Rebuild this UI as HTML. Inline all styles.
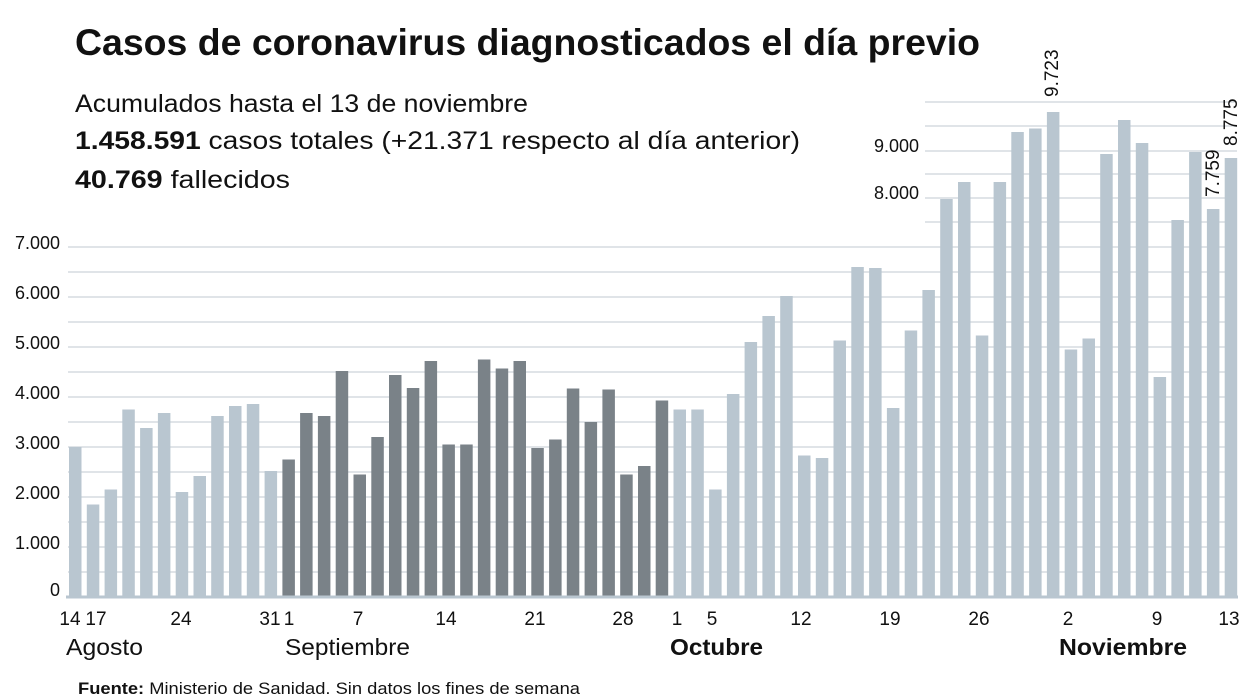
<!DOCTYPE html>
<html><head><meta charset="utf-8"><style>
body{margin:0;background:#fff;}
svg{display:block;font-family:"Liberation Sans",sans-serif;}
</style></head><body>
<svg width="1248" height="698" viewBox="0 0 1248 698">
<text x="75" y="55" font-size="37" font-weight="bold" fill="#111" textLength="905" lengthAdjust="spacingAndGlyphs">Casos de coronavirus diagnosticados el día previo</text>
<text x="75" y="112" font-size="25" fill="#111" textLength="453" lengthAdjust="spacingAndGlyphs">Acumulados hasta el 13 de noviembre</text>
<text x="75" y="149" font-size="25" fill="#111" textLength="725" lengthAdjust="spacingAndGlyphs"><tspan font-weight="bold">1.458.591</tspan> casos totales (+21.371 respecto al día anterior)</text>
<text x="75" y="188" font-size="25" fill="#111" textLength="215" lengthAdjust="spacingAndGlyphs"><tspan font-weight="bold">40.769</tspan> fallecidos</text>
<g stroke="#d5dbe0" stroke-width="1.5">
<line x1="925" x2="1237" y1="102" y2="102"/><line x1="925" x2="1237" y1="126" y2="126"/><line x1="925" x2="1237" y1="151" y2="151"/><line x1="925" x2="1237" y1="174" y2="174"/><line x1="925" x2="1237" y1="198" y2="198"/><line x1="925" x2="1237" y1="222" y2="222"/>
<line x1="68" x2="1237" y1="247" y2="247"/><line x1="68" x2="1237" y1="272" y2="272"/><line x1="68" x2="1237" y1="297" y2="297"/><line x1="68" x2="1237" y1="322" y2="322"/><line x1="68" x2="1237" y1="347" y2="347"/><line x1="68" x2="1237" y1="372" y2="372"/><line x1="68" x2="1237" y1="397" y2="397"/><line x1="68" x2="1237" y1="422" y2="422"/><line x1="68" x2="1237" y1="447" y2="447"/><line x1="68" x2="1237" y1="472" y2="472"/><line x1="68" x2="1237" y1="497" y2="497"/><line x1="68" x2="1237" y1="522" y2="522"/><line x1="68" x2="1237" y1="547" y2="547"/><line x1="68" x2="1237" y1="572" y2="572"/>
</g>
<g font-size="18" fill="#111" text-anchor="end">
<text x="60" y="249">7.000</text><text x="60" y="299">6.000</text><text x="60" y="349">5.000</text><text x="60" y="399">4.000</text><text x="60" y="449">3.000</text><text x="60" y="499">2.000</text><text x="60" y="549">1.000</text><text x="60" y="596">0</text>
<text x="919" y="152">9.000</text><text x="919" y="199">8.000</text>
</g>
<g fill="#b9c6d0">
<rect x="69.0" y="447" width="12.5" height="150"/>
<rect x="86.8" y="504.5" width="12.5" height="92.5"/>
<rect x="104.6" y="489.5" width="12.5" height="107.5"/>
<rect x="122.3" y="409.5" width="12.5" height="187.5"/>
<rect x="140.1" y="428" width="12.5" height="169"/>
<rect x="157.9" y="413" width="12.5" height="184"/>
<rect x="175.7" y="492" width="12.5" height="105"/>
<rect x="193.5" y="476" width="12.5" height="121"/>
<rect x="211.2" y="416" width="12.5" height="181"/>
<rect x="229.0" y="406" width="12.5" height="191"/>
<rect x="246.8" y="404" width="12.5" height="193"/>
<rect x="264.6" y="471" width="12.5" height="126"/>
</g>
<g fill="#7a8288">
<rect x="282.4" y="459.5" width="12.5" height="137.5"/>
<rect x="300.1" y="413" width="12.5" height="184"/>
<rect x="317.9" y="416" width="12.5" height="181"/>
<rect x="335.7" y="371" width="12.5" height="226"/>
<rect x="353.5" y="474.5" width="12.5" height="122.5"/>
<rect x="371.3" y="437" width="12.5" height="160"/>
<rect x="389.0" y="375" width="12.5" height="222"/>
<rect x="406.8" y="388" width="12.5" height="209"/>
<rect x="424.6" y="361" width="12.5" height="236"/>
<rect x="442.4" y="444.5" width="12.5" height="152.5"/>
<rect x="460.2" y="444.5" width="12.5" height="152.5"/>
<rect x="477.9" y="359.5" width="12.5" height="237.5"/>
<rect x="495.7" y="368.5" width="12.5" height="228.5"/>
<rect x="513.5" y="361" width="12.5" height="236"/>
<rect x="531.3" y="448" width="12.5" height="149"/>
<rect x="549.1" y="439.5" width="12.5" height="157.5"/>
<rect x="566.8" y="388.5" width="12.5" height="208.5"/>
<rect x="584.6" y="422" width="12.5" height="175"/>
<rect x="602.4" y="389.5" width="12.5" height="207.5"/>
<rect x="620.2" y="474.5" width="12.5" height="122.5"/>
<rect x="638.0" y="466" width="12.5" height="131"/>
<rect x="655.7" y="400.5" width="12.5" height="196.5"/>
</g>
<g fill="#b9c6d0">
<rect x="673.5" y="409.5" width="12.5" height="187.5"/>
<rect x="691.3" y="409.5" width="12.5" height="187.5"/>
<rect x="709.1" y="489.5" width="12.5" height="107.5"/>
<rect x="726.9" y="394" width="12.5" height="203"/>
<rect x="744.6" y="342" width="12.5" height="255"/>
<rect x="762.4" y="316" width="12.5" height="281"/>
<rect x="780.2" y="296" width="12.5" height="301"/>
<rect x="798.0" y="455.5" width="12.5" height="141.5"/>
<rect x="815.8" y="458" width="12.5" height="139"/>
<rect x="833.5" y="340.5" width="12.5" height="256.5"/>
<rect x="851.3" y="267" width="12.5" height="330"/>
<rect x="869.1" y="268" width="12.5" height="329"/>
<rect x="886.9" y="408" width="12.5" height="189"/>
<rect x="904.7" y="330.5" width="12.5" height="266.5"/>
<rect x="922.4" y="290" width="12.5" height="307"/>
<rect x="940.2" y="199" width="12.5" height="398"/>
<rect x="958.0" y="182" width="12.5" height="415"/>
<rect x="975.8" y="335.5" width="12.5" height="261.5"/>
<rect x="993.6" y="182" width="12.5" height="415"/>
<rect x="1011.3" y="132" width="12.5" height="465"/>
<rect x="1029.1" y="128.5" width="12.5" height="468.5"/>
<rect x="1046.9" y="112" width="12.5" height="485"/>
<rect x="1064.7" y="349.5" width="12.5" height="247.5"/>
<rect x="1082.5" y="338.5" width="12.5" height="258.5"/>
<rect x="1100.2" y="154" width="12.5" height="443"/>
<rect x="1118.0" y="120" width="12.5" height="477"/>
<rect x="1135.8" y="143" width="12.5" height="454"/>
<rect x="1153.6" y="377" width="12.5" height="220"/>
<rect x="1171.4" y="220" width="12.5" height="377"/>
<rect x="1189.1" y="152" width="12.5" height="445"/>
<rect x="1206.9" y="209" width="12.5" height="388"/>
<rect x="1224.7" y="158" width="12.5" height="439"/>
</g>
<line x1="66" x2="1238" y1="597" y2="597" stroke="#b9c6d0" stroke-width="3"/>
<g font-size="19" fill="#111" text-anchor="middle">
<text transform="translate(1058,97) rotate(-90)" text-anchor="start">9.723</text>
<text transform="translate(1219,197) rotate(-90)" text-anchor="start">7.759</text>
<text transform="translate(1237,146) rotate(-90)" text-anchor="start">8.775</text>
<text x="70" y="625">14</text><text x="96" y="625">17</text><text x="181" y="625">24</text><text x="270" y="625">31</text><text x="289" y="625">1</text><text x="358" y="625">7</text><text x="446" y="625">14</text><text x="535" y="625">21</text><text x="623" y="625">28</text><text x="677" y="625">1</text><text x="712" y="625">5</text><text x="801" y="625">12</text><text x="890" y="625">19</text><text x="979" y="625">26</text><text x="1068" y="625">2</text><text x="1157" y="625">9</text><text x="1229" y="625">13</text>
</g>
<g font-size="23" fill="#111">
<text x="66" y="655" textLength="77" lengthAdjust="spacingAndGlyphs">Agosto</text>
<text x="285" y="655" textLength="125" lengthAdjust="spacingAndGlyphs">Septiembre</text>
<text x="670" y="655" font-weight="bold" textLength="93" lengthAdjust="spacingAndGlyphs">Octubre</text>
<text x="1059" y="655" font-weight="bold" textLength="128" lengthAdjust="spacingAndGlyphs">Noviembre</text>
</g>
<text x="78" y="694" font-size="17" fill="#111" textLength="502" lengthAdjust="spacingAndGlyphs"><tspan font-weight="bold">Fuente:</tspan> Ministerio de Sanidad. Sin datos los fines de semana</text>
</svg>
</body></html>
